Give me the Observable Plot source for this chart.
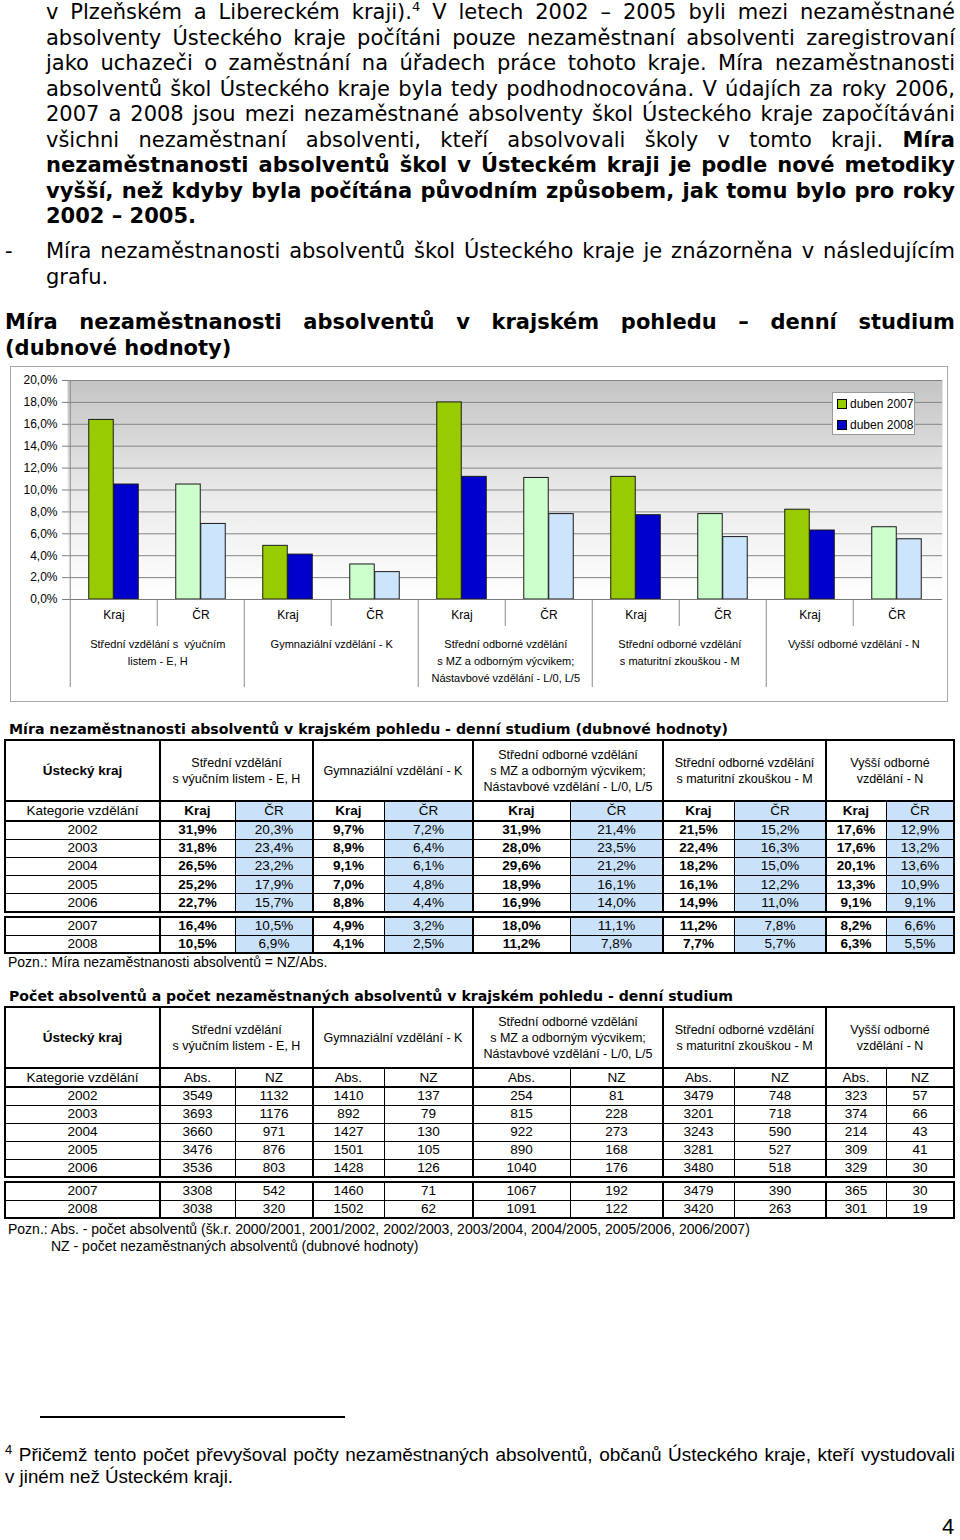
<!DOCTYPE html>
<html><head><meta charset="utf-8">
<script src="https://cdn.jsdelivr.net/npm/d3@7"></script>
<script src="https://cdn.jsdelivr.net/npm/@observablehq/plot@0.6"></script>
<style>
html,body{margin:0;padding:0;background:#fff;}
#page{position:relative;width:960px;height:1540px;overflow:hidden;color:#000;}
.ln{position:absolute;white-space:nowrap;font-family:"DejaVu Sans",Verdana,sans-serif;transform-origin:0 50%;}
.cell{position:absolute;display:flex;align-items:center;justify-content:center;text-align:center;font-family:"Liberation Sans",Arial,sans-serif;font-size:13px;line-height:16px;box-sizing:border-box;white-space:nowrap;}
.rl{position:absolute;background:#000;}
#chartBox{position:absolute;left:10px;top:366px;width:938px;height:336px;outline:1px solid #a8a8a8;outline-offset:-1px;}
#chartBox svg{position:absolute;left:0;top:0;overflow:visible;}
#legend{position:absolute;left:822px;top:26px;width:83px;height:43px;box-sizing:border-box;border:1px solid #999;background:#fff;font-family:"Liberation Sans",Arial,sans-serif;font-size:12px;}
#legend .it{position:absolute;left:4px;height:14px;line-height:14px;white-space:nowrap;}
#legend .sw{display:inline-block;width:8px;height:8px;border:1px solid #000;margin-right:3px;vertical-align:-1px;}
</style></head><body><div id="page"></div>
<script>
// ---------------- DATA ----------------
const groupCodes = ["EH", "K", "L", "M", "N"];
const groupLabels = [
  "Střední vzdělání s  výučním\nlistem - E, H",
  "Gymnaziální vzdělání - K",
  "Střední odborné vzdělání\ns MZ a odborným výcvikem;\nNástavbové vzdělání - L/0, L/5",
  "Střední odborné vzdělání\ns maturitní zkouškou - M",
  "Vyšší odborné vzdělání - N"
];
const subCats = ["Kraj", "ČR"];
const krajApr2007 = [16.4, 4.9, 18.0, 11.2, 8.2];
const krajApr2008 = [10.5, 4.1, 11.2, 7.7, 6.3];
const crApr2007 = [10.5, 3.2, 11.1, 7.8, 6.6];
const crApr2008 = [6.9, 2.5, 7.8, 5.7, 5.5];
const legendLabels = ["duben 2007", "duben 2008"];
const yTickValues = [0, 2, 4, 6, 8, 10, 12, 14, 16, 18, 20];

// table data
const tableGroupHeads = [
  "Střední vzdělání<br>s výučním listem - E, H",
  "Gymnaziální vzdělání - K",
  "Střední odborné vzdělání<br>s MZ a odborným výcvikem;<br>Nástavbové vzdělání - L/0, L/5",
  "Střední odborné vzdělání<br>s maturitní zkouškou - M",
  "Vyšší odborné<br>vzdělání - N"
];
const tableYears = ["2002", "2003", "2004", "2005", "2006", "2007", "2008"];
const rateRows = [
  ["31,9%","20,3%","9,7%","7,2%","31,9%","21,4%","21,5%","15,2%","17,6%","12,9%"],
  ["31,8%","23,4%","8,9%","6,4%","28,0%","23,5%","22,4%","16,3%","17,6%","13,2%"],
  ["26,5%","23,2%","9,1%","6,1%","29,6%","21,2%","18,2%","15,0%","20,1%","13,6%"],
  ["25,2%","17,9%","7,0%","4,8%","18,9%","16,1%","16,1%","12,2%","13,3%","10,9%"],
  ["22,7%","15,7%","8,8%","4,4%","16,9%","14,0%","14,9%","11,0%","9,1%","9,1%"],
  ["16,4%","10,5%","4,9%","3,2%","18,0%","11,1%","11,2%","7,8%","8,2%","6,6%"],
  ["10,5%","6,9%","4,1%","2,5%","11,2%","7,8%","7,7%","5,7%","6,3%","5,5%"]
];
const countRows = [
  [3549,1132,1410,137,254,81,3479,748,323,57],
  [3693,1176,892,79,815,228,3201,718,374,66],
  [3660,971,1427,130,922,273,3243,590,214,43],
  [3476,876,1501,105,890,168,3281,527,309,41],
  [3536,803,1428,126,1040,176,3480,518,329,30],
  [3308,542,1460,71,1067,192,3479,390,365,30],
  [3038,320,1502,62,1091,122,3420,263,301,19]
];

// ---------------- TEXT ----------------
const page = document.getElementById("page");
const SANS = '"Liberation Sans",Arial,sans-serif';
function addLine(o) {
  const d = document.createElement("div");
  d.className = "ln";
  const lh = o.lh || 25.5, size = o.size || 21;
  d.style.left = o.x + "px";
  d.style.top = (o.cy - lh / 2) + "px";
  d.style.lineHeight = lh + "px";
  d.style.fontSize = size + "px";
  if (o.bold) d.style.fontWeight = "bold";
  if (o.arial) d.style.fontFamily = SANS;
  d.innerHTML = o.html;
  page.appendChild(d);
  if (o.w) {
    const w = d.getBoundingClientRect().width;
    const n = (d.textContent.match(/ /g) || []).length;
    if (w > o.w) d.style.transform = `scaleX(${o.w / w})`;
    else if (o.j && n > 0) d.style.wordSpacing = ((o.w - w) / n) + "px";
  }
  return d;
}
const sup = '<sup style="font-size:13px;vertical-align:8px;line-height:0">4</sup>';
const bodyLines = [
  'v Plzeňském a Libereckém kraji).' + sup + ' V letech 2002 – 2005 byli mezi nezaměstnané',
  'absolventy Ústeckého kraje počítáni pouze nezaměstnaní absolventi zaregistrovaní',
  'jako uchazeči o zaměstnání na úřadech práce tohoto kraje. Míra nezaměstnanosti',
  'absolventů škol Ústeckého kraje byla tedy podhodnocována. V údajích za roky 2006,',
  '2007 a 2008 jsou mezi nezaměstnané absolventy škol Ústeckého kraje započítáváni',
  'všichni nezaměstnaní absolventi, kteří absolvovali školy v tomto kraji. <b>Míra</b>',
  '<b>nezaměstnanosti absolventů škol v Ústeckém kraji je podle nové metodiky</b>',
  '<b>vyšší, než kdyby byla počítána původním způsobem, jak tomu bylo pro roky</b>'
];
bodyLines.forEach((h, i) => addLine({x: 46, cy: 12.75 + 25.5 * i, w: 909, j: true, html: h}));
addLine({x: 46, cy: 12.75 + 25.5 * 8, html: '<b>2002 – 2005.</b>'});
addLine({x: 5, cy: 252, html: '-'});
addLine({x: 46, cy: 252, w: 909, j: true, html: 'Míra nezaměstnanosti absolventů škol Ústeckého kraje je znázorněna v následujícím'});
addLine({x: 46, cy: 277.5, html: 'grafu.'});
addLine({x: 5, cy: 323, w: 950, j: true, bold: true, html: 'Míra nezaměstnanosti absolventů v krajském pohledu – denní studium'});
addLine({x: 5, cy: 349, bold: true, html: '(dubnové hodnoty)'});

// ---------------- CHART ----------------
const box = document.createElement("div");
box.id = "chartBox";
page.appendChild(box);

const W = 938, H = 336, mL = 57, mR = 6, mT = 14, mB = 103;
const band = (W - mL - mR) / 10;
const plotH = H - mT - mB;
const barW = 25;
const cats = groupCodes.flatMap(g => subCats.map(s => g + "|" + s));
const seriesDomain = ["Kraj 2007", "Kraj 2008", "ČR 2007", "ČR 2008"];
const seriesColors = ["#99cc00", "#0000cc", "#ccffcc", "#cce4fc"];
const bars07 = [], bars08 = [];
groupCodes.forEach((g, i) => {
  bars07.push({cat: g + "|Kraj", series: "Kraj 2007", value: krajApr2007[i]});
  bars08.push({cat: g + "|Kraj", series: "Kraj 2008", value: krajApr2008[i]});
  bars07.push({cat: g + "|ČR", series: "ČR 2007", value: crApr2007[i]});
  bars08.push({cat: g + "|ČR", series: "ČR 2008", value: crApr2008[i]});
});
const groupRows = groupCodes.map((g, i) => ({cat: g + "|Kraj", label: groupLabels[i]}));

const svg = Plot.plot({
  width: W, height: H,
  marginLeft: mL, marginRight: mR, marginTop: mT, marginBottom: mB,
  style: {background: "transparent", fontFamily: SANS, fontSize: "12px", color: "#000", overflow: "visible"},
  x: {domain: cats, padding: 0, tickFormat: d => d.split("|")[1], tickSize: 0, tickPadding: 11, label: null},
  y: {domain: [0, 20], ticks: yTickValues, tickFormat: d => d.toFixed(1).replace(".", ",") + "%", tickSize: 5, tickPadding: 5, label: null},
  color: {type: "ordinal", domain: seriesDomain, range: seriesColors},
  marks: [
    Plot.frame({fill: "url(#plotBg)", stroke: "none"}),
    Plot.ruleY(yTickValues, {stroke: "#858585", strokeWidth: 1}),
    Plot.barY(bars07, {x: "cat", y: "value", fill: "series", stroke: "#1a1a1a", strokeWidth: 1, insetLeft: band / 2 - barW, insetRight: band / 2}),
    Plot.barY(bars08, {x: "cat", y: "value", fill: "series", stroke: "#1a1a1a", strokeWidth: 1, insetLeft: band / 2, insetRight: band / 2 - barW}),
    Plot.ruleY([0], {stroke: "#7a7a7a", strokeWidth: 1}),
    Plot.ruleX([cats[0]], {dx: -band / 2, insetTop: 0, insetBottom: -88, stroke: "#8a8a8a"}),
    Plot.ruleX(groupCodes.slice(1).map(g => g + "|Kraj"), {dx: -band / 2, insetTop: plotH, insetBottom: -88, stroke: "#8a8a8a"}),
    Plot.ruleX(groupCodes.map(g => g + "|ČR"), {dx: -band / 2, insetTop: plotH, insetBottom: -27, stroke: "#8a8a8a"}),
    Plot.text(groupRows, {x: "cat", text: "label", dx: band / 2, frameAnchor: "bottom", lineAnchor: "top", dy: 36, fontSize: 11, lineHeight: 1.55, fill: "#000"})
  ]
});
svg.insertAdjacentHTML("afterbegin",
  '<defs><linearGradient id="plotBg" x1="0" y1="0" x2="0" y2="1">' +
  '<stop offset="0" stop-color="#c4c4c4"/><stop offset="0.55" stop-color="#ececec"/><stop offset="1" stop-color="#ffffff"/>' +
  '</linearGradient></defs>');
box.appendChild(svg);
svg.querySelectorAll('[aria-label="y-axis tick"] path, [aria-label="y-axis tick"] line').forEach(p => p.setAttribute("stroke", "#808080"));

const legend = document.createElement("div");
legend.id = "legend";
legendLabels.forEach((lab, i) => {
  const it = document.createElement("div");
  it.className = "it";
  it.style.top = (4 + 21 * i) + "px";
  it.innerHTML = `<span class="sw" style="background:${seriesColors[i]}"></span>${lab}`;
  legend.appendChild(it);
});
box.appendChild(legend);

// ---------------- TABLES ----------------
const colX = [5, 160, 235, 313, 384, 473, 570, 663, 734, 826, 886, 954];
function rl(x, y, w, h) {
  const d = document.createElement("div");
  d.className = "rl";
  d.style.left = x + "px"; d.style.top = y + "px"; d.style.width = w + "px"; d.style.height = h + "px";
  page.appendChild(d);
}
function hLine(y, t) { rl(colX[0] - t / 2, y - t / 2, colX[11] - colX[0] + t, t); }
function vLine(x, y1, y2, t) { rl(x - t / 2, y1, t, y2 - y1); }
function cell(x1, x2, y1, y2, html, st) {
  const d = document.createElement("div");
  d.className = "cell";
  d.style.left = x1 + "px"; d.style.top = y1 + "px";
  d.style.width = (x2 - x1) + "px"; d.style.height = (y2 - y1) + "px";
  if (st) Object.assign(d.style, st);
  d.innerHTML = html;
  page.appendChild(d);
}
function drawTable(cfg) {
  const {top, headH, katH, rowH, top2, rowH2, subHeads, rows, fmt, blue} = cfg;
  const blueBg = "#c9e2fa";
  const yHead = top + headH, yKat = yHead + katH;
  const rowYs = [yKat];
  for (let i = 0; i < 5; i++) rowYs.push(yKat + rowH * (i + 1));
  const bottom1 = rowYs[5];
  const rowYs2 = [top2, top2 + rowH2, top2 + 2 * rowH2];
  cell(colX[0], colX[1], top, yHead, "<b>Ústecký kraj</b>", {fontSize: "13.5px"});
  tableGroupHeads.forEach((h, g) => cell(colX[1 + 2 * g], colX[3 + 2 * g], top, yHead, h, {fontSize: "12.5px"}));
  cell(colX[0], colX[1], yHead, yKat, "Kategorie vzdělání", {fontSize: "13.5px"});
  for (let c = 0; c < 10; c++) {
    const isCR = c % 2 === 1;
    cell(colX[1 + c], colX[2 + c], yHead, yKat, subHeads[c % 2],
      Object.assign({fontSize: "13.5px"}, blue && isCR ? {background: blueBg} : {}, blue && !isCR ? {fontWeight: "bold"} : {}));
  }
  const allRows = [];
  for (let r = 0; r < 5; r++) allRows.push([rowYs[r], rowYs[r + 1], r]);
  for (let r = 0; r < 2; r++) allRows.push([rowYs2[r], rowYs2[r + 1], 5 + r]);
  allRows.forEach(([y1, y2, r]) => {
    cell(colX[0], colX[1], y1, y2, tableYears[r], {fontSize: "13.5px"});
    for (let c = 0; c < 10; c++) {
      const isCR = c % 2 === 1;
      cell(colX[1 + c], colX[2 + c], y1, y2, fmt(rows[r][c]),
        Object.assign({fontSize: "13.5px"}, blue && isCR ? {background: blueBg} : {}, blue && !isCR ? {fontWeight: "bold"} : {}));
    }
  });
  hLine(top, 2); hLine(yHead, 2); hLine(yKat, 2.5);
  for (let i = 1; i < 5; i++) hLine(rowYs[i], 1);
  hLine(bottom1, 2);
  [0, 1, 3, 5, 7, 9, 11].forEach(k => vLine(colX[k], top - 1, bottom1 + 1, 2));
  [2, 4, 6, 8, 10].forEach(k => vLine(colX[k], yHead, bottom1, 1));
  hLine(rowYs2[0], 2); hLine(rowYs2[1], 1); hLine(rowYs2[2], 2);
  [0, 1, 3, 5, 7, 9, 11].forEach(k => vLine(colX[k], rowYs2[0] - 1, rowYs2[2] + 1, 2));
  [2, 4, 6, 8, 10].forEach(k => vLine(colX[k], rowYs2[0], rowYs2[2], 1));
}

addLine({x: 9, cy: 729, w: 719, j: true, bold: true, size: 14.5, lh: 17,
  html: 'Míra nezaměstnanosti absolventů v krajském pohledu - denní studium (dubnové hodnoty)'});
drawTable({top: 740, headH: 61, katH: 20, rowH: 18.2, top2: 917, rowH2: 18,
  subHeads: ["Kraj", "ČR"], rows: rateRows, fmt: v => v, blue: true});
addLine({x: 8, cy: 962, w: 323, arial: true, size: 14, lh: 16,
  html: 'Pozn.: Míra nezaměstnanosti absolventů = NZ/Abs.'});

addLine({x: 9, cy: 996, w: 724, j: true, bold: true, size: 14.5, lh: 17,
  html: 'Počet absolventů a počet nezaměstnaných absolventů v krajském pohledu - denní studium'});
drawTable({top: 1007, headH: 61, katH: 19, rowH: 18, top2: 1182, rowH2: 18,
  subHeads: ["Abs.", "NZ"], rows: countRows, fmt: v => String(v), blue: false});
addLine({x: 8, cy: 1229, w: 754, arial: true, size: 14, lh: 16,
  html: 'Pozn.: Abs. - počet absolventů (šk.r. 2000/2001, 2001/2002, 2002/2003, 2003/2004, 2004/2005, 2005/2006, 2006/2007)'});
addLine({x: 51, cy: 1246, w: 372, arial: true, size: 14, lh: 16,
  html: 'NZ - počet nezaměstnaných absolventů (dubnové hodnoty)'});

// footnote
rl(40, 1416, 305, 1.5);
addLine({x: 5, cy: 1455, w: 950, j: true, arial: true, size: 19, lh: 22,
  html: '<sup style="font-size:13px;vertical-align:7px;line-height:0">4</sup> Přičemž tento počet převyšoval počty nezaměstnaných absolventů, občanů Ústeckého kraje, kteří vystudovali'});
addLine({x: 5, cy: 1477, w: 228, arial: true, size: 19, lh: 22, html: 'v jiném než Ústeckém kraji.'});
addLine({x: 942, cy: 1527, arial: true, size: 22, lh: 22, html: '4'});
</script></body></html>
